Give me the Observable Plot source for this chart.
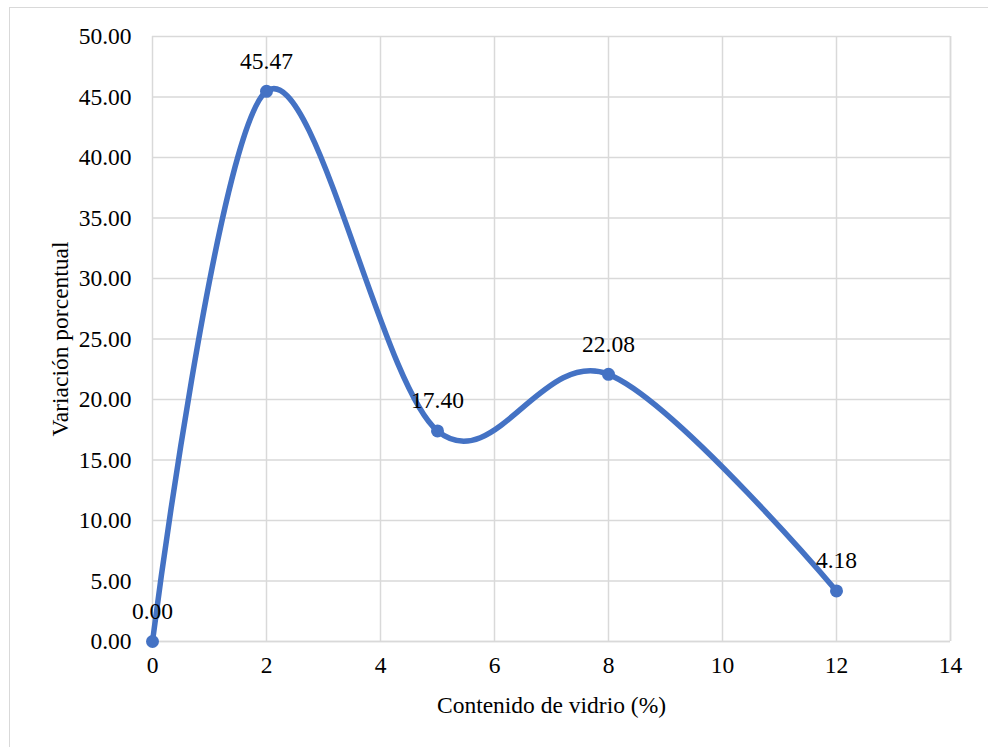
<!DOCTYPE html>
<html>
<head>
<meta charset="utf-8">
<script src="https://cdn.jsdelivr.net/npm/d3@7"></script>
<script src="https://cdn.jsdelivr.net/npm/@observablehq/plot@0.6"></script>
<style>
  html, body { margin: 0; padding: 0; background: #fff; }
  #wrap { position: relative; width: 988px; height: 747px; overflow: hidden; }
  #frame { position: absolute; left: 9px; top: 7px; width: 984px; height: 745px; border: 1.5px solid #d9d9d9; box-sizing: border-box; pointer-events: none; }
</style>
</head>
<body>
<div id="wrap"><div id="frame"></div><div id="chart"></div></div>
<script>
const contenido = [0, 2, 5, 8, 12];
const variacion = [0.00, 45.47, 17.40, 22.08, 4.18];
const xTicks = [0, 2, 4, 6, 8, 10, 12, 14];
const yTicks = [0, 5, 10, 15, 20, 25, 30, 35, 40, 45, 50];
const xTitle = "Contenido de vidrio (%)";
const yTitle = "Variación porcentual";

const data = contenido.map((x, i) => ({x, y: variacion[i]}));
const blue = "#4472C4";
const serif = '"Liberation Serif", "Times New Roman", serif';
const fs = "23.5px";

const chart = Plot.plot({
  width: 988,
  height: 747,
  marginLeft: 152,
  marginRight: 38,
  marginTop: 36,
  marginBottom: 106,
  style: {fontFamily: serif, fontSize: fs, color: "#000", background: "transparent"},
  x: {domain: [0, 14]},
  y: {domain: [0, 50]},
  marks: [
    Plot.gridX(xTicks, {stroke: "#d9d9d9", strokeOpacity: 1, strokeWidth: 1.5}),
    Plot.gridY(yTicks, {stroke: "#d9d9d9", strokeOpacity: 1, strokeWidth: 1.5}),
    Plot.ruleY([0], {stroke: "#d9d9d9", strokeWidth: 1.5}),
    Plot.ruleX([14], {stroke: "#d9d9d9", strokeWidth: 1.5}),
    Plot.axisX(xTicks, {tickSize: 0, tickPadding: 15, label: null, fill: "#000"}),
    Plot.axisY(yTicks, {tickSize: 0, tickPadding: 21, label: null, tickFormat: d3.format(".2f"), fill: "#000"}),
    Plot.line(data, {x: "x", y: "y", curve: "cardinal", stroke: blue, strokeWidth: 5.5, strokeLinecap: "round", strokeLinejoin: "round"}),
    Plot.dot(data, {x: "x", y: "y", r: 6.5, fill: blue, stroke: "none"}),
    Plot.text(data, {x: "x", y: "y", text: d => d.y.toFixed(2), dy: -30, lineAnchor: "middle", fill: "#000"}),
    Plot.text([xTitle], {frameAnchor: "bottom", dy: 64, lineAnchor: "middle", textAnchor: "middle", fill: "#000"}),
    Plot.text([yTitle], {frameAnchor: "left", dx: -92, rotate: -90, lineAnchor: "middle", textAnchor: "middle", fill: "#000"})
  ]
});
d3.select(chart).selectAll("g, text").attr("font-family", serif).attr("font-size", fs);
d3.select(chart).selectAll("text, tspan").style("font-family", serif).style("font-size", fs);
document.getElementById("chart").appendChild(chart);
</script>
</body>
</html>
